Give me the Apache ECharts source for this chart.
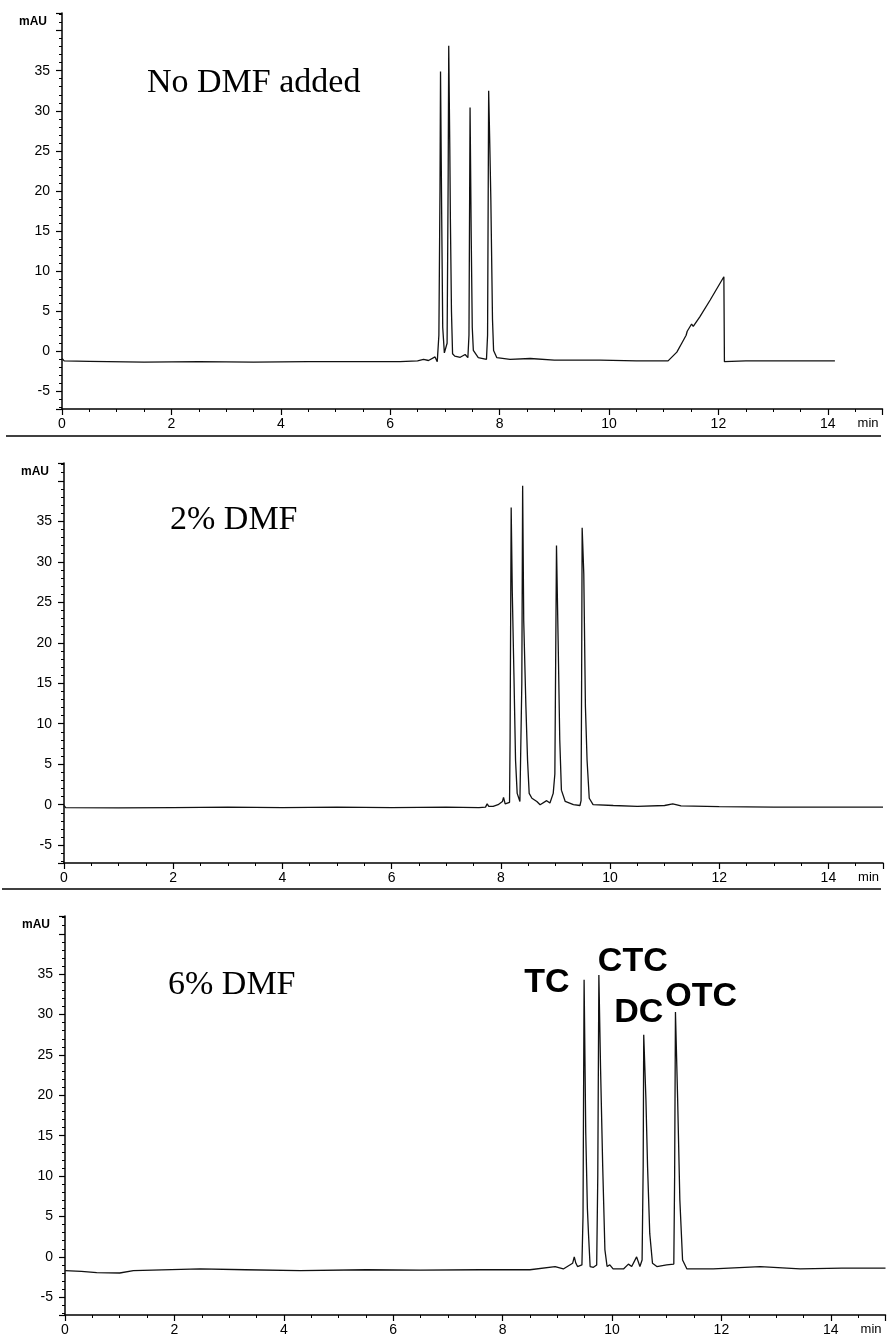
<!DOCTYPE html>
<html>
<head>
<meta charset="utf-8">
<title>Chromatograms</title>
<script src="https://cdn.jsdelivr.net/npm/echarts@6/dist/echarts.min.js"></script>
<style>
  html, body { margin: 0; padding: 0; background: #fff; }
  #chart { width: 887px; height: 1339px; }
</style>
</head>
<body>
<div id="chart"></div>
<script>
  // panel titles
  var panelTitles = ['No DMF added', '2% DMF', '6% DMF'];

  // retention time (min) and absorbance (mAU)
  var timeNoDmf = [0.00, 0.04, 0.5, 1.5, 2.5, 3.5, 4.5, 5.5, 6.18, 6.50, 6.61, 6.70, 6.82, 6.86, 6.89, 6.91, 6.92, 6.94, 6.96, 6.99,
    7.02, 7.04, 7.06, 7.07, 7.09, 7.10, 7.12, 7.14, 7.18, 7.28, 7.37, 7.42, 7.44, 7.46, 7.48, 7.50, 7.52, 7.61, 7.76, 7.78,
    7.80, 7.82, 7.84, 7.87, 7.89, 7.95, 8.19, 8.56, 9.00, 9.84, 10.5, 11.08, 11.24, 11.33, 11.41, 11.43, 11.46, 11.51, 11.54, 11.66,
    11.85, 12.10, 12.11, 12.5, 13.3, 14.13];
  var signalNoDmf = [-0.9, -1.2, -1.25, -1.35, -1.3, -1.35, -1.3, -1.3, -1.3, -1.2, -1.0, -1.15, -0.7, -1.3, 2.0, 20.0, 34.9, 18.0, 3.0, -0.2,
    -0.3, 1.0, 22.0, 38.1, 25.0, 16.7, 5.0, -0.3, -0.6, -0.75, -0.4, -0.8, 2.0, 30.4, 15.0, 3.0, 0.1, -0.8, -1.0, 2.0,
    32.5, 26.0, 18.9, 4.0, 0.1, -0.8, -1.0, -0.9, -1.1, -1.1, -1.2, -1.2, -0.1, 1.0, 2.0, 2.5, 2.3, 3.4, 3.1, 4.3,
    6.4, 9.3, -1.3, -1.2, -1.2, -1.2];

  var time2Dmf = [0.00, 0.03, 1.0, 2.0, 3.0, 4.0, 5.0, 6.0, 7.0, 7.60, 7.72, 7.75, 7.78, 7.86, 7.95, 8.03, 8.05, 8.08, 8.11, 8.16,
    8.17, 8.19, 8.21, 8.24, 8.27, 8.30, 8.35, 8.37, 8.385, 8.40, 8.42, 8.46, 8.49, 8.52, 8.57, 8.66, 8.72, 8.84, 8.90, 8.96,
    8.99, 9.02, 9.05, 9.08, 9.11, 9.18, 9.33, 9.45, 9.47, 9.48, 9.49, 9.52, 9.55, 9.58, 9.62, 9.69, 10.06, 10.5, 11.0, 11.15,
    11.3, 12.0, 13.0, 14.0, 15.0];
  var signal2Dmf = [-0.1, -0.35, -0.4, -0.35, -0.3, -0.35, -0.3, -0.35, -0.3, -0.35, -0.3, 0.1, -0.2, -0.2, 0.0, 0.4, 0.9, 0.1, 0.0, 0.3,
    8.0, 36.7, 26.4, 16.2, 5.5, 1.4, 0.4, 0.6, 15.0, 39.4, 22.7, 12.1, 5.5, 1.4, 0.8, 0.4, 0.0, 0.5, 0.2, 1.4,
    3.8, 32.0, 20.3, 8.0, 1.8, 0.4, 0.0, -0.1, 0.5, 15.0, 34.2, 28.5, 12.1, 5.5, 0.8, 0.0, -0.1, -0.2, -0.1, 0.1,
    -0.15, -0.25, -0.3, -0.3, -0.3];

  var time6Dmf = [0.00, 0.30, 0.58, 1.00, 1.25, 2.47, 3.3, 4.3, 5.5, 6.5, 7.59, 8.50, 8.96, 9.11, 9.28, 9.31, 9.34, 9.37, 9.45, 9.47,
    9.49, 9.52, 9.55, 9.57, 9.60, 9.66, 9.72, 9.74, 9.76, 9.79, 9.83, 9.87, 9.91, 9.96, 10.02, 10.21, 10.30, 10.36, 10.45, 10.51,
    10.55, 10.57, 10.58, 10.62, 10.65, 10.69, 10.74, 10.82, 11.00, 11.13, 11.145, 11.16, 11.20, 11.24, 11.29, 11.37, 11.85, 12.71, 13.44, 14.2,
    15.0];
  var signal6Dmf = [-1.7, -1.8, -1.95, -2.0, -1.7, -1.5, -1.6, -1.7, -1.6, -1.65, -1.6, -1.6, -1.2, -1.5, -0.8, 0.0, -0.8, -1.2, -1.0, 5.0,
    34.3, 15.4, 6.0, 2.9, -1.2, -1.3, -1.0, 10.0, 34.9, 23.6, 11.2, 0.9, -1.2, -1.0, -1.5, -1.5, -0.9, -1.2, 0.0, -1.2,
    -0.4, 11.2, 27.5, 19.5, 11.2, 2.9, -0.8, -1.2, -1.0, -0.9, 10.0, 30.3, 19.5, 7.1, -0.4, -1.5, -1.5, -1.2, -1.5, -1.4,
    -1.4];

  // peak names on the 6% DMF trace
  var peakNames = ['TC', 'CTC', 'DC', 'OTC'];
  var peakLabelTime = [8.81, 10.38, 10.49, 11.63];
  var peakLabelSignal = [33.9, 36.6, 30.2, 32.2];

  // axes
  var timeMin = 0, timeMax = 15;
  var signalMin = -7.2, signalMax = 42.2;

  function zip(xs, ys) {
    var out = [];
    for (var i = 0; i < xs.length; i++) out.push([xs[i], ys[i]]);
    return out;
  }

  var grids = [
    {left: 62, top: 13, width: 820.5, height: 396},
    {left: 64, top: 463, width: 819, height: 400},
    {left: 65, top: 916, width: 820.5, height: 399}
  ];
  var titleTops = [66, 503, 968];
  var titleLefts = [147, 170, 168];

  var sans = 'Liberation Sans, Arial, Helvetica, sans-serif';

  function makeX(i) {
    return {
      type: 'value', gridIndex: i, min: timeMin, max: timeMax, splitNumber: 7,
      name: 'min', nameLocation: 'end', nameGap: -4,
      nameTextStyle: {color: '#000', fontFamily: sans, fontSize: 13, align: 'right', verticalAlign: 'top', padding: [8, 0, 0, 0]},
      axisLine: {onZero: false, lineStyle: {color: '#000', width: 1.5}},
      axisTick: {length: 6, lineStyle: {color: '#000', width: 1.2}},
      minorTick: {show: true, splitNumber: 4, length: 3, lineStyle: {color: '#000', width: 1}},
      axisLabel: {color: '#000', fontFamily: sans, fontSize: 14, margin: 8, showMaxLabel: false},
      splitLine: {show: false}
    };
  }

  function makeY(i) {
    return {
      type: 'value', gridIndex: i, min: signalMin, max: signalMax, splitNumber: 10,
      name: 'mAU', nameLocation: 'end', nameGap: -9,
      nameTextStyle: {color: '#000', fontFamily: sans, fontSize: 12, fontWeight: 'bold', align: 'right', verticalAlign: 'middle', padding: [0, 15, 0, 0]},
      axisLine: {onZero: false, lineStyle: {color: '#000', width: 1.5}},
      axisTick: {length: 6, lineStyle: {color: '#000', width: 1.2}},
      minorTick: {show: true, splitNumber: 5, length: 3, lineStyle: {color: '#000', width: 1}},
      axisLabel: {
        color: '#000', fontFamily: sans, fontSize: 14, margin: 12, showMinLabel: false, showMaxLabel: false,
        // the top tick (40) carries no number, mAU sits above it
        formatter: function (v) { return v > 36 ? '' : String(v); }
      },
      splitLine: {show: false}
    };
  }

  function trace(i, data) {
    return {
      type: 'line', xAxisIndex: i, yAxisIndex: i, data: data,
      showSymbol: false, smooth: false, silent: true,
      lineStyle: {color: '#111', width: 1.3}
    };
  }

  var peakLabels = [];
  for (var k = 0; k < peakNames.length; k++) {
    peakLabels.push({name: peakNames[k], value: [peakLabelTime[k], peakLabelSignal[k]]});
  }

  var chart = echarts.init(document.getElementById('chart'));
  chart.setOption({
    animation: false,
    backgroundColor: '#fff',
    title: panelTitles.map(function (t, i) {
      return {
        text: t, left: titleLefts[i], top: titleTops[i], padding: 0,
        textStyle: {color: '#000', fontFamily: 'Liberation Serif, Times New Roman, serif', fontSize: 34, fontWeight: 'normal'}
      };
    }),
    grid: grids,
    xAxis: [makeX(0), makeX(1), makeX(2)],
    yAxis: [makeY(0), makeY(1), makeY(2)],
    series: [
      trace(0, zip(timeNoDmf, signalNoDmf)),
      trace(1, zip(time2Dmf, signal2Dmf)),
      trace(2, zip(time6Dmf, signal6Dmf)),
      {
        type: 'scatter', xAxisIndex: 2, yAxisIndex: 2, symbolSize: 0, silent: true,
        itemStyle: {opacity: 1},
        data: peakLabels,
        label: {
          show: true, position: 'inside', formatter: '{b}', opacity: 1,
          color: '#000', textBorderWidth: 0, fontFamily: sans, fontSize: 34, fontWeight: 'bold'
        }
      }
    ],
    graphic: [
      // separator rules under each panel's time labels
      {type: 'line', shape: {x1: 6, y1: 436, x2: 881, y2: 436}, style: {stroke: '#000', lineWidth: 1.5}},
      {type: 'line', shape: {x1: 2, y1: 889, x2: 881, y2: 889}, style: {stroke: '#000', lineWidth: 1.5}}
    ]
  });
</script>
</body>
</html>
